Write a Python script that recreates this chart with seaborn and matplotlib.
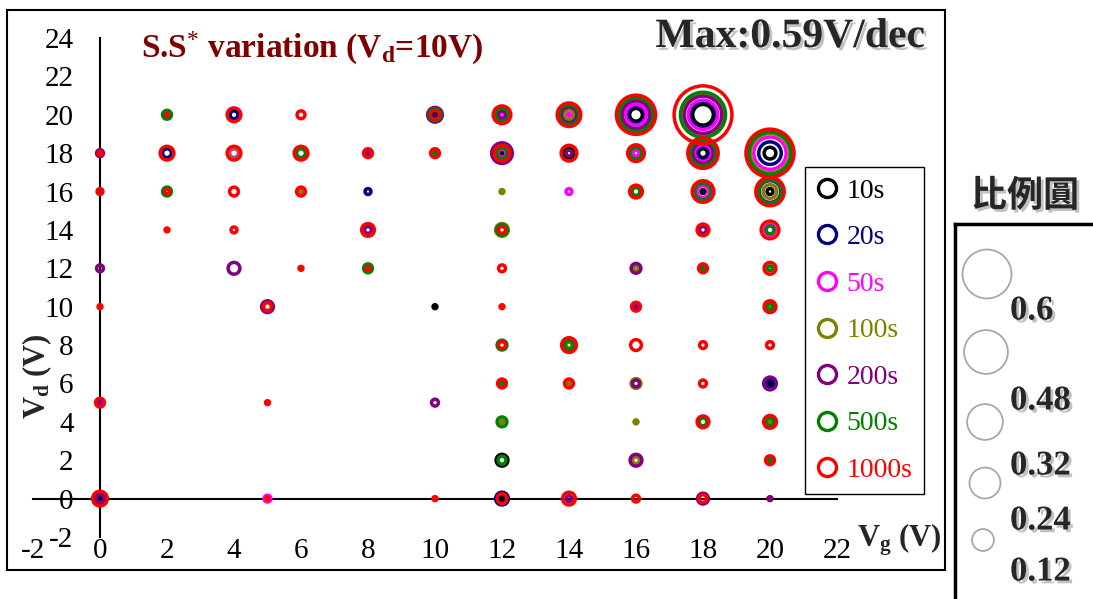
import numpy as np
import matplotlib
matplotlib.use("Agg")
from matplotlib import pyplot as plt
import matplotlib.patheffects as pe
from matplotlib.lines import Line2D
from matplotlib.patches import Rectangle
import seaborn as sns

# grid points (Vg, Vd)
vg = [0, 0, 0, 0, 0, 0, 2, 2, 2, 2,
      4, 4, 4, 4, 4, 5, 5, 5, 6, 6,
      6, 6, 8, 8, 8, 8, 10, 10, 10, 10,
      10, 12, 12, 12, 12, 12, 12, 12, 12, 12,
      12, 12, 14, 14, 14, 14, 14, 14, 16, 16,
      16, 16, 16, 16, 16, 16, 16, 16, 18, 18,
      18, 18, 18, 18, 18, 18, 18, 20, 20, 20,
      20, 20, 20, 20, 20, 20, 20]
vd = [0, 5, 10, 12, 16, 18, 14, 16, 18, 20,
      12, 14, 16, 18, 20, 0, 5, 10, 12, 16,
      18, 20, 12, 14, 16, 18, 0, 5, 10, 18,
      20, 0, 2, 4, 6, 8, 10, 12, 14, 16,
      18, 20, 0, 6, 8, 16, 18, 20, 0, 2,
      4, 6, 8, 10, 12, 16, 18, 20, 0, 4,
      6, 8, 12, 14, 16, 18, 20, 0, 2, 4,
      6, 8, 10, 12, 14, 16, 18]

# S.S variation (V/dec) per stress time, 0 = no circle
ss_10s = [.04, 0, 0, 0, 0, 0, 0, 0, 0, 0,
          0, 0, 0, 0, 0, 0, 0, 0, 0, 0,
          0, 0, 0, 0, 0, 0, 0, 0, .04, 0,
          .02, .04, .12, 0, 0, 0, 0, 0, 0, 0,
          .04, 0, 0, 0, 0, 0, .10, 0, 0, 0,
          0, 0, 0, 0, 0, 0, 0, .13, 0, 0,
          0, 0, 0, 0, .04, .09, .21, 0, 0, 0,
          .04, 0, 0, 0, 0, .06, .12]
ss_20s = [.10, 0, 0, 0, 0, 0, 0, 0, .09, 0,
          0, 0, 0, 0, .08, 0, 0, 0, 0, 0,
          0, 0, 0, 0, .06, 0, 0, 0, 0, 0,
          .05, .13, 0, 0, 0, 0, 0, 0, 0, 0,
          0, 0, 0, 0, 0, 0, 0, 0, 0, 0,
          0, 0, 0, 0, 0, 0, 0, .18, 0, 0,
          0, 0, 0, 0, 0, .13, .27, 0, 0, 0,
          .08, 0, 0, 0, 0, 0, .23]
ss_50s = [0, 0, 0, 0, 0, 0, 0, 0, 0, 0,
          0, 0, 0, .09, 0, .07, 0, 0, 0, 0,
          0, 0, 0, 0, 0, 0, 0, 0, 0, 0,
          0, 0, 0, 0, 0, 0, 0, 0, 0, 0,
          .08, .05, 0, 0, 0, .06, 0, .03, 0, 0,
          0, 0, 0, 0, 0, 0, .06, .21, 0, 0,
          0, 0, 0, 0, .12, .17, .30, 0, 0, 0,
          0, 0, 0, 0, .11, 0, .33]
ss_100s = [0, 0, 0, 0, 0, 0, 0, 0, 0, 0,
           0, 0, 0, .11, 0, 0, 0, 0, 0, .03,
           0, 0, 0, 0, 0, 0, 0, 0, 0, 0,
           0, 0, 0, .03, 0, 0, 0, 0, .13, .04,
           0, 0, 0, .03, .06, 0, 0, .10, 0, .07,
           .04, .10, 0, 0, .05, 0, 0, .32, 0, 0,
           0, 0, 0, 0, 0, .23, .42, 0, 0, .04,
           0, 0, .03, 0, 0, .14, .40]
ss_200s = [.08, .04, 0, .07, 0, .07, 0, 0, 0, 0,
           .12, 0, 0, 0, 0, 0, 0, .12, 0, 0,
           0, 0, 0, .07, 0, .04, 0, .07, 0, 0,
           .15, 0, 0, 0, 0, 0, 0, 0, 0, 0,
           .21, .08, .06, 0, 0, 0, .06, .16, 0, .12,
           0, .07, 0, .04, .10, 0, 0, .28, .11, 0,
           0, 0, 0, .07, 0, .21, .38, .04, 0, 0,
           .13, 0, 0, 0, 0, .22, 0]
ss_500s = [0, 0, 0, 0, 0, 0, 0, .09, 0, .09,
           0, 0, 0, 0, 0, 0, 0, 0, 0, 0,
           .09, 0, .09, 0, 0, 0, 0, 0, 0, .03,
           .12, 0, .08, .10, .03, .10, 0, 0, .11, 0,
           .11, .13, 0, 0, .09, 0, 0, .20, 0, 0,
           0, 0, 0, 0, 0, .08, .12, .35, 0, .08,
           0, 0, .04, 0, .17, .26, .46, 0, .03, .08,
           0, 0, .07, .05, .08, .24, .43]
ss_1000s = [.15, .09, .04, 0, .06, .04, .04, .05, .14, .03,
            0, .06, .09, .14, .14, .03, .04, .08, .04, .09,
            .14, .08, .04, .13, 0, .09, .04, 0, 0, .09,
            .09, .10, 0, 0, .09, .07, .04, .07, .07, 0,
            .16, .18, .13, .09, .15, 0, .16, .24, .07, 0,
            0, 0, .11, .09, 0, .13, .17, .40, .08, .12,
            .07, .07, .09, .12, .22, .31, .59, 0, .09, .13,
            0, .07, .12, .12, .18, .29, .49]

series_labels = ["10s", "20s", "50s", "100s", "200s", "500s", "1000s"]
series_colors = ["#000000", "#000080", "#ff00ff", "#808000", "#800080", "#008000", "#ff0000"]
series_values = [ss_10s, ss_20s, ss_50s, ss_100s, ss_200s, ss_500s, ss_1000s]

scale_values = [0.6, 0.48, 0.32, 0.24, 0.12]
scale_labels = ["0.6", "0.48", "0.32", "0.24", "0.12"]

sns.set_style("white")
plt.rcParams['font.family'] = ['Liberation Serif', 'Noto Sans CJK TC', 'DejaVu Sans']
plt.rcParams['mathtext.fontset'] = 'custom'
plt.rcParams['mathtext.rm'] = 'Liberation Serif'
plt.rcParams['mathtext.bf'] = 'Liberation Serif:bold'
plt.rcParams['mathtext.it'] = 'Liberation Serif:italic'
plt.rcParams['axes.unicode_minus'] = False

W, H = 1093, 599
fig = plt.figure(figsize=(W / 100, H / 100), dpi=100)
ax = fig.add_axes([33 / W, 1 - 537 / H, (837 - 33) / W, (537 - 38) / H])
ax.patch.set_alpha(0)

px_per_unit = 49  # circle radius in pixels for 1 V/dec
x_arr = np.array(vg)
y_arr = np.array(vd)
for vals, col in zip(series_values, series_colors):
    v = np.array(vals)
    m = v > 0
    diam_pt = 2 * v[m] * px_per_unit * 0.72
    sns.scatterplot(x=x_arr[m], y=y_arr[m], s=diam_pt ** 2, facecolor="none",
                    edgecolor=col, linewidth=2.5, clip_on=False, legend=False,
                    ax=ax, zorder=3)

ax.set_xlim(-2, 22)
ax.set_ylim(-2, 24)
ax.set_xticks(range(-2, 23, 2))
ax.set_yticks(range(-2, 25, 2))
ax.set_xlabel("")
ax.set_ylabel("")
for s in ["top", "right"]:
    ax.spines[s].set_visible(False)
ax.spines["left"].set_position(("data", 0))
ax.spines["bottom"].set_position(("data", 0))
for s in ["left", "bottom"]:
    ax.spines[s].set_linewidth(1.5)
    ax.spines[s].set_color("black")
ax.tick_params(axis="both", direction="in", length=7, width=1.5, labelsize=21, colors="black")
ax.tick_params(axis="x", pad=28)
ax.tick_params(axis="y", pad=19)

# axis labels and titles
fig.text(899 / W, 1 - 540 / H, r"V$_{\mathbf{g}}$ (V)", fontsize=22, fontweight="bold",
         ha="center", va="center")
fig.text(37 / W, 1 - 376 / H, r"V$_{\mathbf{d}}$ (V)", fontsize=22, fontweight="bold",
         ha="center", va="center", rotation=90)
fig.text(312 / W, 1 - 48 / H, r"S.S$^{*}$ variation (V$_{\mathbf{d}}$=10V)", fontsize=24,
         fontweight="bold", color="#800000", ha="center", va="center")
shadow = [pe.SimplePatchShadow(offset=(2, -2), shadow_rgbFace="#999999", alpha=0.6), pe.Normal()]
fig.text(925 / W, 1 - 37 / H, "Max:0.59V/dec", fontsize=30, fontweight="bold",
         ha="right", va="center", path_effects=shadow)

# legend
handles = [Line2D([], [], marker="o", ls="", markerfacecolor="none", markeredgecolor=c,
                  markersize=13, markeredgewidth=2.4) for c in series_colors]
leg = fig.legend(handles, series_labels, loc="upper left",
                 bbox_to_anchor=(805 / W, 1 - 167 / H), bbox_transform=fig.transFigure,
                 borderaxespad=0, borderpad=0.4, handlelength=0.8, handletextpad=0.3,
                 labelspacing=0.76, fontsize=20, labelcolor=series_colors,
                 frameon=True, fancybox=False, framealpha=1, edgecolor="black")
leg.get_frame().set_linewidth(1.0)

# outer frame
fig.patches.append(Rectangle((7 / W, 1 - 570 / H), (945 - 7) / W, (570 - 10) / H,
                             transform=fig.transFigure, fill=False, lw=1.5, ec="black"))

# scale circle box
sax = fig.add_axes([955 / W, 0, (W - 955) / W, (H - 224) / H])
sax.patch.set_alpha(0)
for s in ["right", "bottom"]:
    sax.spines[s].set_visible(False)
for s in ["left", "top"]:
    sax.spines[s].set_linewidth(2.5)
    sax.spines[s].set_color("black")
scale_x = [32, 31, 30, 30, 28]
scale_y = [50, 128, 198, 259, 316]
sns.scatterplot(x=scale_x, y=scale_y, size=scale_values, sizes=(0.12 * 2070, 0.6 * 2070),
                size_norm=(0.12, 0.6), facecolor="none", edgecolor="#a8a8a8",
                linewidth=1.3, legend=False, clip_on=False, ax=sax)
sax.set_xlim(0, W - 955)
sax.set_ylim(H - 224, 0)
sax.set_xticks([])
sax.set_yticks([])
sax.set_xlabel("")
sax.set_ylabel("")
label_y = [87, 177, 242, 297, 348]
for lab, ly in zip(scale_labels, label_y):
    sax.text(55, ly, lab, fontsize=25, fontweight="bold", ha="left", va="center",
             path_effects=shadow)

fig.text(1025 / W, 1 - 196 / H, "比例圓", fontsize=26, fontweight="bold",
         family=["Noto Sans CJK TC", "DejaVu Sans"], ha="center", va="center",
         path_effects=shadow)

fig.savefig("out.png", dpi=100)
